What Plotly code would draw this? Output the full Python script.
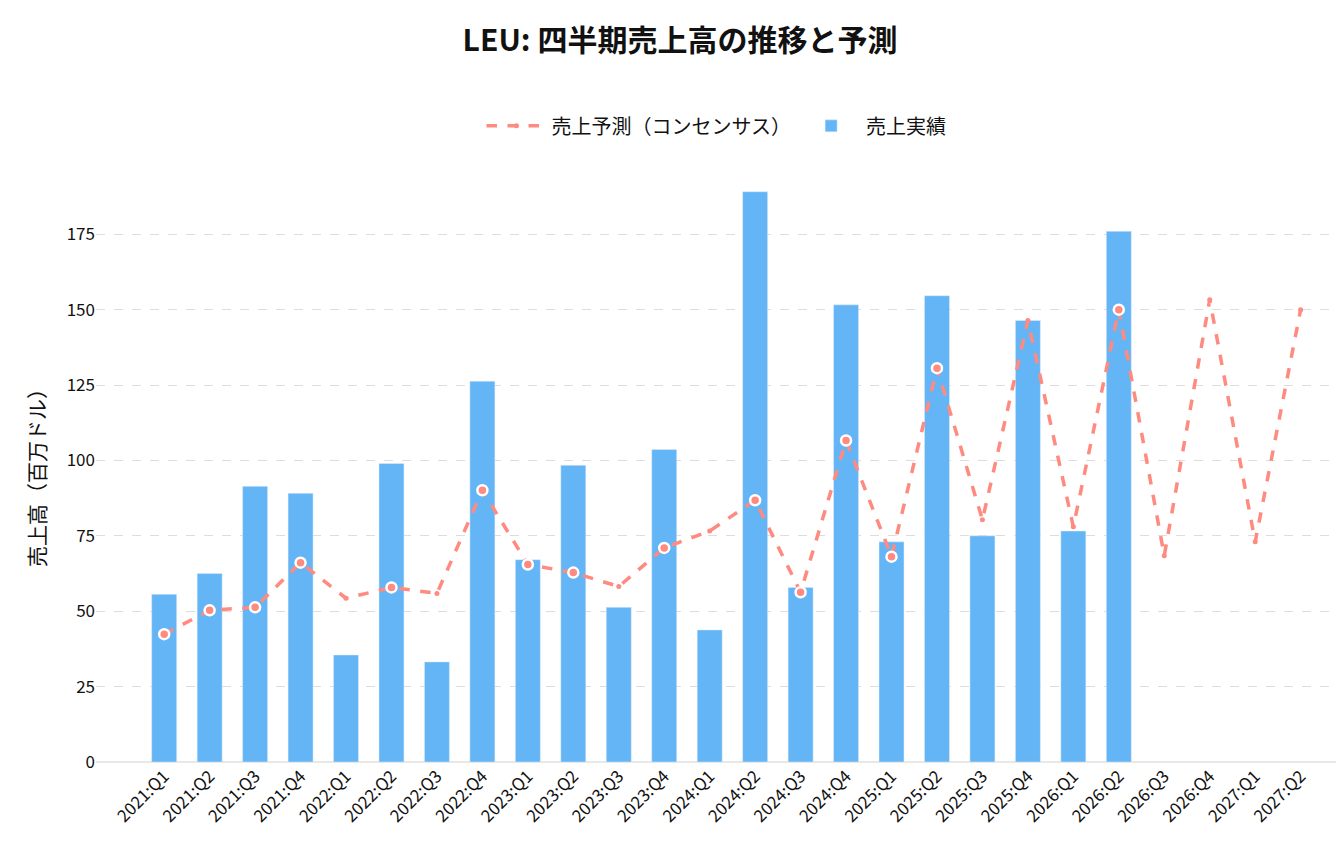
import plotly.graph_objects as go

quarters = ["2021:Q1","2021:Q2","2021:Q3","2021:Q4","2022:Q1","2022:Q2","2022:Q3","2022:Q4",
            "2023:Q1","2023:Q2","2023:Q3","2023:Q4","2024:Q1","2024:Q2","2024:Q3","2024:Q4",
            "2025:Q1","2025:Q2","2025:Q3","2025:Q4","2026:Q1","2026:Q2","2026:Q3","2026:Q4",
            "2027:Q1","2027:Q2"]
actual = [55.6,62.5,91.4,89.1,35.5,99.0,33.2,126.3,67.1,98.4,51.3,103.6,43.8,189.1,57.9,151.6,
          73.0,154.6,75.0,146.4,76.6,176.0,None,None,None,None]
consensus = [42.4,50.3,51.3,66.1,54.3,57.9,55.9,90.1,65.5,62.8,58.2,71.0,76.6,86.8,56.3,106.6,
             68.1,130.6,80.3,146.4,78.0,150.0,68.4,153.3,73.0,150.0]

LINE = "#FF8A80"
BAR = "#64B5F6"

beat_x = [q for q, a, c in zip(quarters, actual, consensus) if a is not None and a > c + 0.5]
beat_y = [c for q, a, c in zip(quarters, actual, consensus) if a is not None and a > c + 0.5]

fig = go.Figure()
fig.add_trace(go.Bar(x=quarters, y=actual, name="売上実績", marker_color=BAR, width=0.55))
fig.add_trace(go.Scatter(x=quarters, y=consensus, name="売上予測（コンセンサス）", mode="lines+markers",
                         line=dict(color=LINE, width=3.5, dash="dash"),
                         marker=dict(size=5, color=LINE)))
fig.add_trace(go.Scatter(x=beat_x, y=beat_y, mode="markers", showlegend=False,
                         marker=dict(size=10, color=LINE, line=dict(color="white", width=2.5))))

fig.update_layout(
    width=1344, height=846,
    font=dict(family="Noto Sans CJK JP", size=17, color="#111"),
    title=dict(text="<b>LEU: 四半期売上高の推移と予測</b>", x=0.5, y=0.962, xanchor="center",
               yanchor="middle", font=dict(size=30)),
    legend=dict(orientation="h", x=0.5, xanchor="center", y=1.065, yanchor="bottom",
                font=dict(size=20), traceorder="reversed", itemwidth=60),
    plot_bgcolor="white", paper_bgcolor="white",
    margin=dict(l=88, r=15, t=175, b=92),
    bargap=0.45,
)
fig.update_xaxes(tickangle=-45, tickfont=dict(size=17), showgrid=False, showline=False,
                 range=[-1.5, 25.8])
fig.update_yaxes(title=dict(text="売上高（百万ドル）", font=dict(size=21)), range=[0, 192],
                 tickvals=[0,25,50,75,100,125,150,175], showgrid=True, gridcolor="#dddddd",
                 griddash="dash", zeroline=True, zerolinecolor="#e8e8e8", tickfont=dict(size=17))
fig.write_html("out.html")
